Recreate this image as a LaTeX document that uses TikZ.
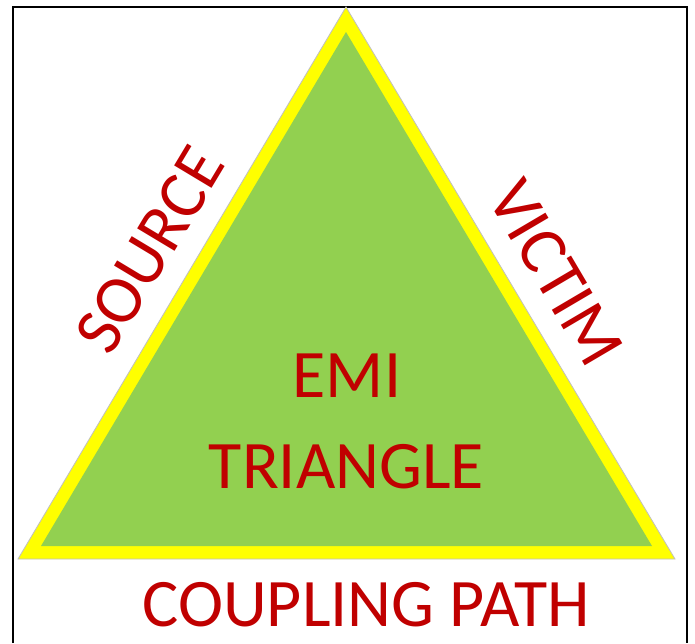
\documentclass[tikz,border=0pt]{standalone}
\usepackage{fontspec}
\setmainfont{Carlito}
\definecolor{emired}{HTML}{C00000}
\definecolor{emigreen}{HTML}{92D050}
\definecolor{emiyellow}{HTML}{FFFF00}
\definecolor{edgegray}{HTML}{BFBFBF}
\tikzset{
  lbl/.style={text=emired, font=\fontsize{68}{80}\selectfont, inner sep=0pt},
  frameline/.style={draw=black, line width=2pt},
}
\begin{document}
\begin{tikzpicture}[x=1pt,y=-1pt]
\useasboundingbox (0,0) rectangle (695,643);
\fill[white] (0,0) rectangle (695,643);
% frame
\draw[frameline] (12.5,643) -- (12.5,6.5) -- (687,6.5) -- (687,643);
% triangle
\coordinate (bl) at (18,559);
\coordinate (tp) at (346,7);
\coordinate (br) at (675,559);
\filldraw[fill=emiyellow, draw=edgegray, line width=0.8pt, line join=miter] (bl) -- (tp) -- (br) -- cycle;
\coordinate (ibl) at (41,546);
\coordinate (itp) at (346,32);
\coordinate (ibr) at (652,546);
\fill[emigreen] (ibl) -- (itp) -- (ibr) -- cycle;
% labels
\node[lbl, anchor=base] (emi) at (347,397) {EMI};
\node[lbl, anchor=base] (tri) at (346.5,488) {TRIANGLE};
\node[lbl, anchor=base] (cp) at (366,626) {COUPLING PATH};
\node[lbl, rotate=59] (src) at (150,250) {SOURCE};
\node[lbl, rotate=-59.5] (vic) at (556,273) {VICTIM};
\end{tikzpicture}
\end{document}
